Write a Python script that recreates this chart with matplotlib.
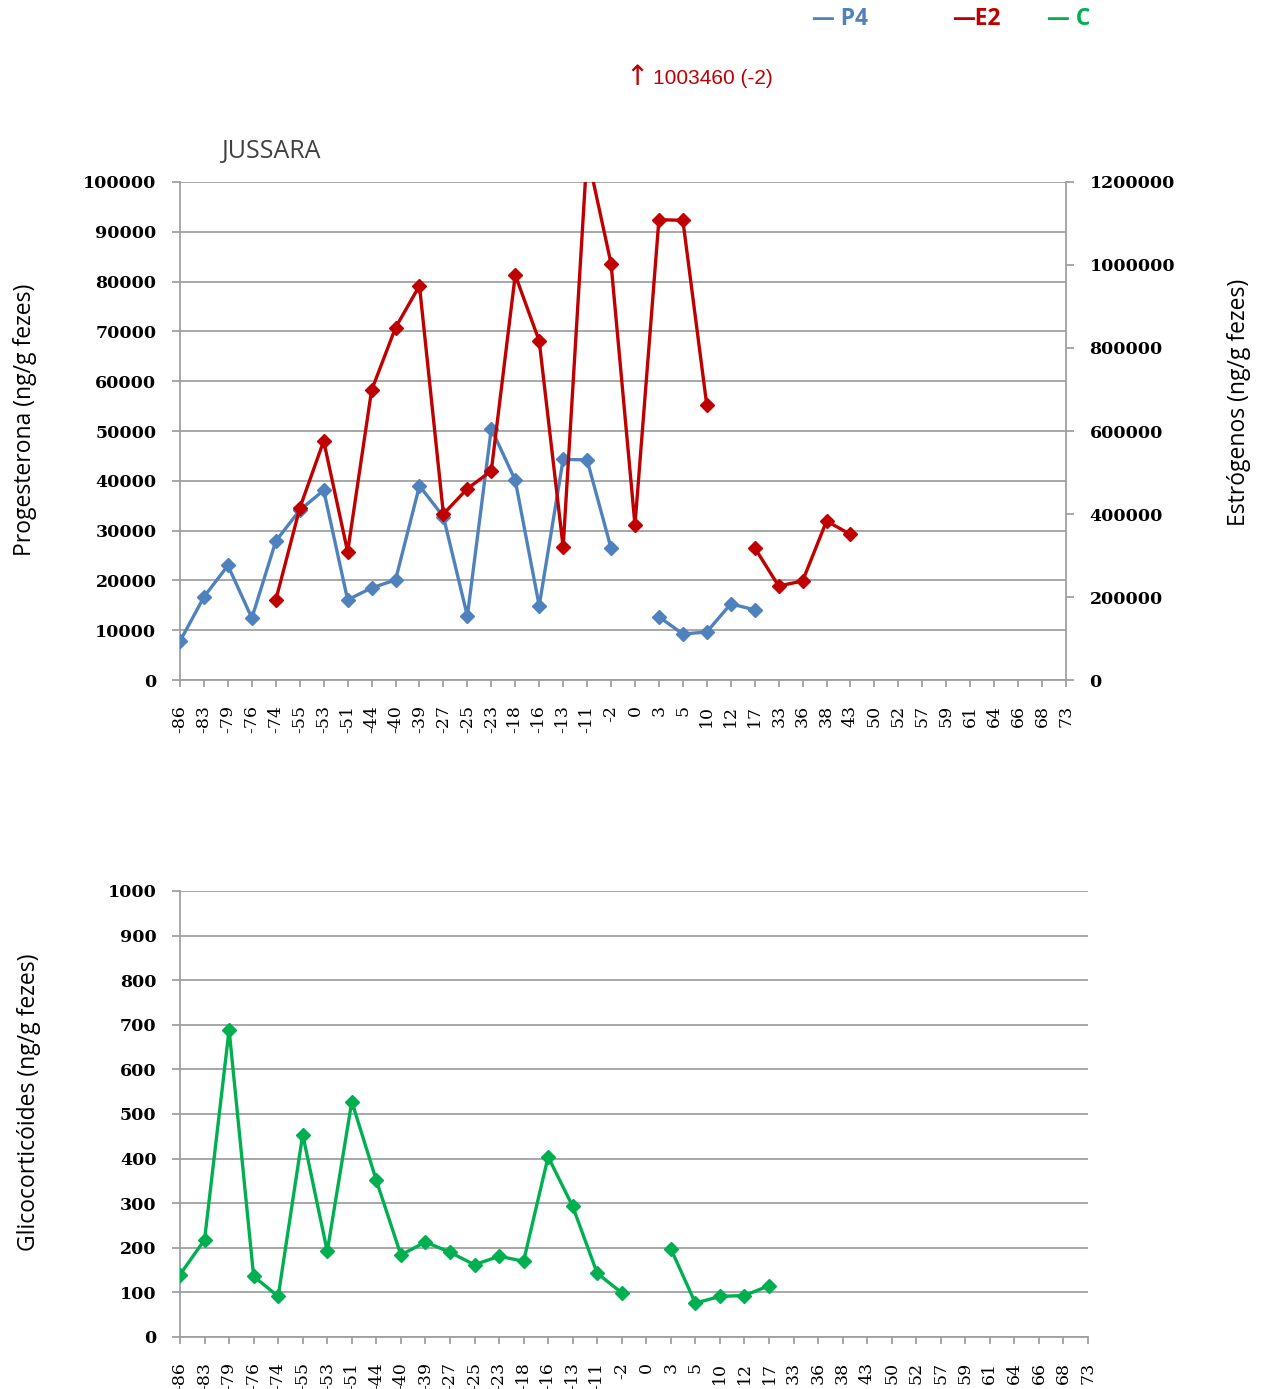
import numpy as np
import matplotlib
matplotlib.use('Agg')
import matplotlib.pyplot as plt

nan = np.nan

# categorias do eixo x (dias)
dias = ['-86', '-83', '-79', '-76', '-74', '-55', '-53', '-51', '-44', '-40',
        '-39', '-27', '-25', '-23', '-18', '-16', '-13', '-11', '-2', '0',
        '3', '5', '10', '12', '17', '33', '36', '38', '43', '50',
        '52', '57', '59', '61', '64', '66', '68', '73']

# progesterona (eixo esquerdo)
p4 = [7800, 16700, 23000, 12450, 27900, 34100, 38100, 16100, 18500, 20100,
      39000, 32800, 12850, 50500, 40100, 14900, 44300, 44200, 26500, nan,
      12700, 9250, 9650, 15300, 14100, nan, nan, nan, nan, nan,
      nan, nan, nan, nan, nan, nan, nan, nan]

# estrogenos (eixo direito)
e2 = [nan, nan, nan, nan, 193000, 414000, 576000, 309000, 698000, 849000,
      950000, 400000, 461000, 504000, 976000, 817000, 320000, 1270000, 1003460, 373500,
      1109000, 1107700, 662000, nan, 318800, 226500, 238600, 383000, 351000, nan,
      nan, nan, nan, nan, nan, nan, nan, nan]

# glicocorticoides
gc = [140, 218, 689, 136, 91, 454, 192, 528, 351, 184,
      213, 190, 162, 181, 170, 404, 293, 143, 99, nan,
      198, 76, 91, 93, 115, nan, nan, nan, nan, nan,
      nan, nan, nan, nan, nan, nan, nan, nan]

azul = '#4F81BD'
vermelho = '#C00000'
verde = '#00B050'
cinza = '#A0A0A0'

sans = ['Open Sans', 'DejaVu Sans']
serif = 'DejaVu Serif'

fig = plt.figure(figsize=(12.66, 13.89), dpi=100)
x = np.arange(len(dias))


def estilo_eixo(ax, yticks):
    ax.set_xlim(0, len(dias) - 1)
    ax.set_xticks(x)
    ax.set_xticklabels(dias, rotation=90, fontfamily=serif, fontsize=12.5)
    ax.set_yticks(yticks)
    ax.set_yticklabels([str(v) for v in yticks], fontfamily=serif,
                       fontsize=12.5, fontweight='bold')
    ax.grid(axis='y', color=cinza, linewidth=1.3)
    ax.set_axisbelow(True)
    for s in ['top', 'right']:
        ax.spines[s].set_visible(False)
    for s in ['left', 'bottom']:
        ax.spines[s].set_color(cinza)
        ax.spines[s].set_linewidth(1.3)
    ax.tick_params(axis='y', length=6, color=cinza, width=1.3, pad=11)
    ax.tick_params(axis='x', length=5, color=cinza, width=1.3, pad=13)


# grafico de cima: P4 e E2
ax1 = fig.add_axes([0.1422, 0.5104, 0.6998, 0.3586])
estilo_eixo(ax1, list(range(0, 100001, 10000)))
ax1.set_ylim(0, 100000)
ax1.plot(x, p4, color=azul, lw=2.4, marker='D', ms=7, zorder=3)
ax1.set_ylabel('Progesterona (ng/g fezes)', fontfamily=sans, fontsize=16.5)
ax1.yaxis.set_label_coords(-0.161, 0.522)

ax2 = ax1.twinx()
ax2.set_ylim(0, 1200000)
ticks2 = list(range(0, 1200001, 200000))
ax2.set_yticks(ticks2)
ax2.set_yticklabels([str(v) for v in ticks2], fontfamily=serif,
                    fontsize=12.5, fontweight='bold')
ax2.plot(x, e2, color=vermelho, lw=2.4, marker='D', ms=7, zorder=3)
for s in ['top', 'left', 'bottom']:
    ax2.spines[s].set_visible(False)
ax2.spines['right'].set_color(cinza)
ax2.spines['right'].set_linewidth(1.3)
ax2.tick_params(axis='y', length=6, color=cinza, width=1.3, pad=11)
ax2.set_ylabel('Estrógenos (ng/g fezes)', fontfamily=sans, fontsize=16.5)
ax2.yaxis.set_label_coords(1.182, 0.558)

ax1.text(0.047, 1.062, 'JUSSARA', transform=ax1.transAxes, fontfamily=sans,
         fontsize=18, color='#404040', va='center')

# grafico de baixo: glicocorticoides
ax3 = fig.add_axes([0.1422, 0.03744, 0.7172, 0.3211])
estilo_eixo(ax3, list(range(0, 1001, 100)))
ax3.set_ylim(0, 1000)
ax3.plot(x, gc, color=verde, lw=2.4, marker='D', ms=7, zorder=3)
ax3.set_ylabel('Glicocorticóides (ng/g fezes)', fontfamily=sans, fontsize=16.5)
ax3.yaxis.set_label_coords(-0.153, 0.527)

# legenda e nota
yl = 1 - 19 / 1389
fig.text(812 / 1266, yl, '— P4', color=azul, fontfamily=sans,
         fontsize=16.5, fontweight='bold', va='center')
fig.text(952 / 1266, yl, '—E2', color=vermelho, fontfamily=sans,
         fontsize=16.5, fontweight='bold', va='center')
fig.text(1047 / 1266, yl, '— C', color=verde, fontfamily=sans,
         fontsize=16.5, fontweight='bold', va='center')
fig.text(625 / 1266, 1 - 77 / 1389, '↑', color=vermelho,
         fontfamily='DejaVu Sans', fontsize=20, va='center')
fig.text(653 / 1266, 1 - 78 / 1389, '1003460 (-2)', color=vermelho,
         fontfamily='Liberation Sans', fontsize=15, va='center')

fig.savefig('out.png', dpi=100)
